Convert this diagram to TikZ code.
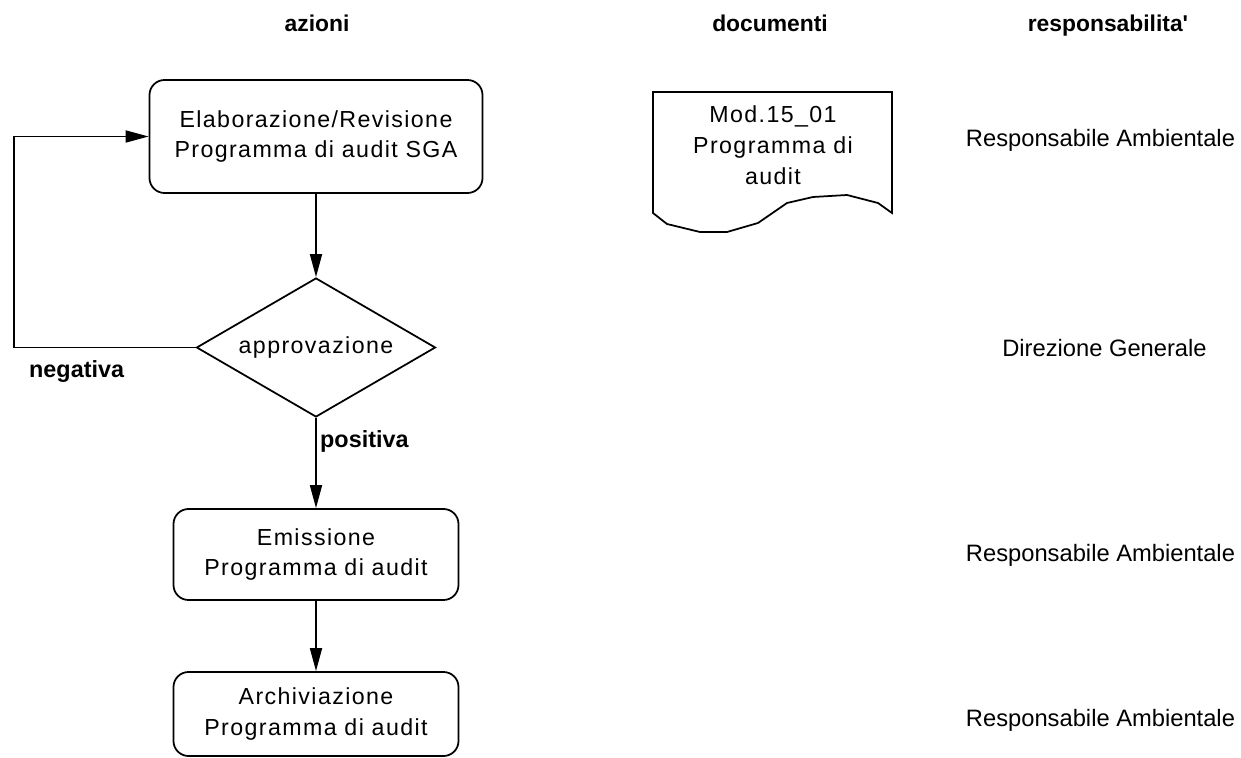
\documentclass[tikz,border=0pt]{standalone}
\usepackage{fontspec}
\setmainfont{Liberation Sans}
\newfontfamily\spacedsans[LetterSpace=6]{Liberation Sans}
\usetikzlibrary{arrows.meta,positioning,calc,shapes.geometric}

\begin{document}
\begin{tikzpicture}[
    txt/.style={font=\fontsize{13.2}{17.6}\selectfont\spacedsans, align=center},
    resp/.style={font=\fontsize{13.5}{17}\selectfont, align=center},
    head/.style={font=\fontsize{13}{17}\selectfont\bfseries, anchor=base},
    act/.style={txt, draw, line width=1pt, rounded corners=0.3cm, inner sep=0pt},
    check/.style={txt, draw, line width=1pt, diamond, shape aspect=1.7, inner sep=0pt,
      minimum width=4.78cm, minimum height=2.78cm},
    flow/.style={-{Triangle[length=0.46cm, width=0.24cm]}, line width=1pt},
    lbl/.style={font=\fontsize{13.3}{17}\selectfont\bfseries, anchor=base west},
  ]
  \useasboundingbox (0,0) rectangle (24.82,-15.16);

  % Column headers
  \node[head] (hAz)   at (6.34,-0.64)  {azioni};
  \node[head] (hDoc)  at (15.4,-0.64)  {documenti};
  \node[head] (hResp) at (22.16,-0.64) {responsabilita\textquotesingle};

  % Actions
  \node[act, minimum width=6.66cm, minimum height=2.26cm] (elab) at (6.32,-2.73)
    {Elaborazione/Revisione\\Programma di audit SGA};
  \node[check] (appr) at (6.32,-6.95) {approvazione};
  \node[act, minimum width=5.7cm, minimum height=1.82cm] (emis) at (6.32,-11.09)
    {Emissione\\Programma di audit};
  \node[act, minimum width=5.7cm, minimum height=1.68cm] (arch) at (6.32,-14.28)
    {Archiviazione\\Programma di audit};

  % Flow
  \coordinate (loop) at (0.28,-6.95);
  \draw[flow] (elab) -- (appr);
  \draw[flow] (appr) -- (emis);
  \draw[flow] (emis) -- (arch);
  \draw[flow] (appr.west) -- (loop) |- (elab.west);
  \node[lbl] (neg) at (0.46,-7.54)  {negativa};
  \node[lbl] (pos) at (6.28,-8.94) {positiva};

  % Document
  \draw[line width=1pt] (13.06,-4.26) -- (13.06,-1.84) -- (17.84,-1.84) -- (17.84,-4.26)
    -- (17.56,-4.06) -- (16.94,-3.9) -- (16.26,-3.94) -- (15.74,-4.06) -- (15.16,-4.46)
    -- (14.54,-4.64) -- (14.0,-4.64) -- (13.34,-4.48) -- cycle;
  \node[txt] (mod) at (15.46,-2.9) {Mod.15\_01\\Programma di\\audit};

  % Responsibilities
  \node[resp] (r1) at (22.01,-2.8)  {Responsabile Ambientale};
  \node[resp] (r2) at (22.09,-6.96) {Direzione Generale};
  \node[resp] (r3) at (22.01,-11.1) {Responsabile Ambientale};
  \node[resp] (r4) at (22.01,-14.4) {Responsabile Ambientale};
\end{tikzpicture}
\end{document}
